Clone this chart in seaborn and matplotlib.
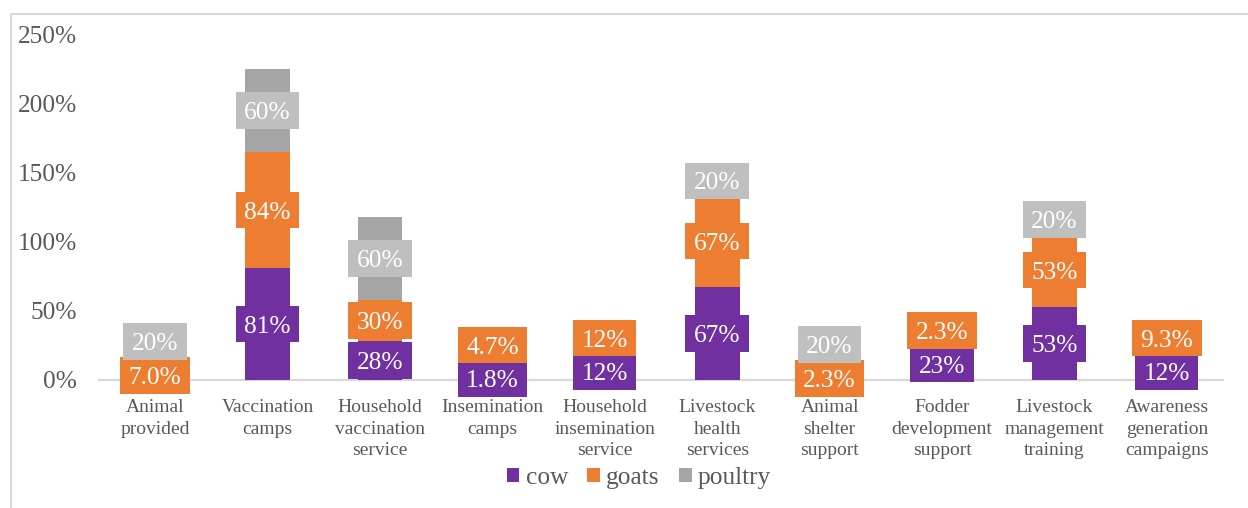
import matplotlib
matplotlib.use("Agg")
import matplotlib.pyplot as plt
from matplotlib.patches import Patch, Rectangle
import seaborn as sns
import numpy as np

categories = ["Animal\nprovided", "Vaccination\ncamps", "Household\nvaccination\nservice",
              "Insemination\ncamps", "Household\ninsemination\nservice", "Livestock\nhealth\nservices",
              "Animal\nshelter\nsupport", "Fodder\ndevelopment\nsupport", "Livestock\nmanagement\ntraining",
              "Awareness\ngeneration\ncampaigns"]
cow = [0, 81, 28, 1.8, 12, 67, 0, 23, 53, 12]
goats = [7.0, 84, 30, 4.7, 12, 67, 2.3, 2.3, 53, 9.3]
poultry = [20, 60, 60, 0, 0, 20, 20, 0, 20, 0]
series_names = ["cow", "goats", "poultry"]
yticks = [0, 50, 100, 150, 200, 250]

bar_colors = ["#7030A0", "#ED7D31", "#A5A5A5"]
box_colors = ["#7030A0", "#ED7D31", "#BFBFBF"]
FONT = "Liberation Serif"
GREY = "#595959"
LABEL_FS = 18.3

sns.set_theme(style="white")
plt.rcParams["font.family"] = [FONT, "DejaVu Serif"]

W, H = 1248, 508
fig = plt.figure(figsize=(W / 100, H / 100), dpi=100)
ax = fig.add_axes([99 / W, 1 - 380 / H, (1223 - 99) / W, (380 - 34.3) / H])

series = [cow, goats, poultry]
bottom = np.zeros(len(categories))
for vals, col in zip(series, bar_colors):
    sns.barplot(x=categories, y=vals, bottom=bottom, color=col, saturation=1,
                width=0.4, errorbar=None, ax=ax, zorder=2, order=categories,
                linewidth=0, edgecolor="none")
    bottom = bottom + np.array(vals)

ax.set_ylim(0, 250)
ax.set_xlim(-0.5, len(categories) - 0.5)
ax.set_yticks(yticks)
ax.set_yticklabels([f"{t}%" for t in yticks])
for s in ["top", "right", "left"]:
    ax.spines[s].set_visible(False)
ax.spines["bottom"].set_color("#D9D9D9")
ax.spines["bottom"].set_linewidth(1.6)
ax.spines["bottom"].set_zorder(1)
ax.tick_params(axis="y", length=0, pad=16, labelsize=LABEL_FS, labelcolor=GREY)
ax.tick_params(axis="x", length=0, pad=14, labelsize=14, labelcolor=GREY)
for lab in ax.get_xticklabels():
    lab.set_linespacing(1.32)
ax.grid(False)

# data labels with coloured boxes
fig.canvas.draw()
renderer = fig.canvas.get_renderer()
px_per_unit = ax.bbox.height / 250.0
box_h_px = 36.7
box_h = box_h_px / px_per_unit
digit_half_px = 0.676 * LABEL_FS * 100 / 72 / 2
cum = np.zeros(len(categories))
prev_center = [None] * len(categories)
for si, (vals, bcol) in enumerate(zip(series, box_colors)):
    for i, v in enumerate(vals):
        if v > 0:
            seg_c = cum[i] + v / 2.0
            c = seg_c
            if prev_center[i] is not None:
                c = max(seg_c, prev_center[i] + 0.92 * box_h)
            prev_center[i] = c
            txt = f"{v:.1f}%" if v < 10 else f"{v:.0f}%"
            t = ax.text(i, c - digit_half_px / px_per_unit, txt, ha="center", va="baseline",
                        color="white", fontsize=LABEL_FS, zorder=11 + 2 * si, clip_on=False)
            ext = t.get_window_extent(renderer)
            bw_px = ext.width + 17
            bw = bw_px / (ax.bbox.width / len(categories))
            rect = Rectangle((i - bw / 2, c - box_h / 2), bw, box_h, facecolor=bcol,
                             edgecolor="none", zorder=10 + 2 * si, clip_on=False)
            ax.add_patch(rect)
    cum = cum + np.array(vals)

# legend
handles = [Patch(facecolor=c, edgecolor="none", label=n) for c, n in zip(bar_colors, series_names)]
leg = fig.legend(handles=handles, loc="center", bbox_to_anchor=(639 / W, 1 - 478 / H), ncol=3,
                 frameon=False, fontsize=LABEL_FS, handlelength=0.5, handleheight=0.5,
                 handletextpad=0.25, columnspacing=0.75)
for tx in leg.get_texts():
    tx.set_color(GREY)

# outer chart frame (partially cropped)
fig.patches.append(Rectangle((11 / W, -0.2), 1.5, 1 - 14 / H + 0.2, transform=fig.transFigure,
                             fill=False, edgecolor="#D9D9D9", linewidth=1.5))

fig.savefig("out.png", dpi=100)
